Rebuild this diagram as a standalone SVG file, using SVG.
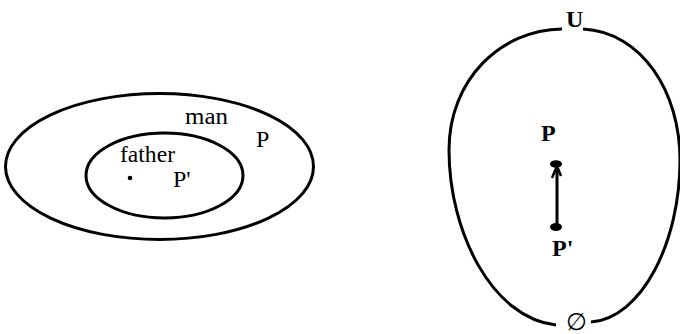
<svg xmlns="http://www.w3.org/2000/svg" width="680" height="334" viewBox="0 0 680 334">
<style>
.ln{fill:none;stroke:#000;stroke-width:3}
.t{font-family:"Liberation Serif",serif;font-size:24px;fill:#000}
.b{font-weight:bold}
</style>
<rect width="680" height="334" fill="#fff"/>
<g id="man">
<ellipse class="ln" cx="159.5" cy="166.5" rx="154" ry="73"/>
<text class="t" x="185" y="124" textLength="43" lengthAdjust="spacingAndGlyphs">man</text>
<text class="t" x="256" y="147">P</text>
</g>
<g id="father">
<ellipse class="ln" cx="164.5" cy="175.5" rx="78.5" ry="42.5"/>
<text class="t" x="120" y="162" textLength="55" lengthAdjust="spacingAndGlyphs">father</text>
<circle cx="130" cy="178" r="2.3" fill="#000"/>
<text class="t" x="173" y="187">P'</text>
</g>
<g id="universe">
<path class="ln" d="M562,29 C500,30 449,80 449,150 C449,232 492,318 556,325"/>
<path class="ln" d="M583,29 C642,32 680,92 680,160 C680,242 642,318 591,322"/>
<text class="t b" x="566" y="27">U</text>
<text class="t" x="566" y="330" font-size="20">∅</text>
</g>
<g id="P">
<ellipse cx="556" cy="164" rx="6" ry="3.8" fill="#000"/>
<text class="t b" x="541" y="141" font-size="22">P</text>
</g>
<g id="Pprime">
<ellipse cx="556" cy="227" rx="6" ry="4" fill="#000"/>
<text class="t b" x="552" y="256" font-size="22">P'</text>
</g>
<g id="connectors">
<line class="ln" x1="557" y1="227" x2="557" y2="170"/>
<path d="M552,178 L557,166 L561,176" fill="none" stroke="#000" stroke-width="2.5"/>
</g>
</svg>
